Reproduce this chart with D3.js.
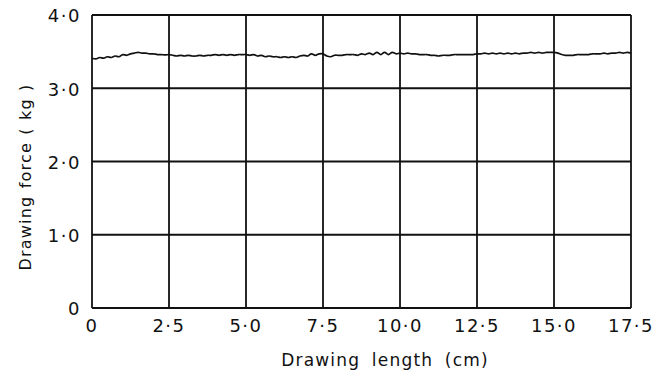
<!DOCTYPE html>
<html>
<head>
<meta charset="utf-8">
<script src="https://cdn.jsdelivr.net/npm/d3@7"></script>
<style>
    body { margin: 0; background: #fff; }
    text { font-family: "DejaVu Sans", sans-serif; fill: #111; }
</style>
</head>
<body>
<svg id="chart"></svg>
<script>
// Drawing force recorded every 0.125 cm of drawing length
var lengthStep = 0.125;
var forceValues = [
    3.41, 3.40, 3.42, 3.41, 3.43, 3.42, 3.44, 3.43, 3.46, 3.45, 3.47, 3.48, 3.49, 3.48, 3.48, 3.47, 3.47, 3.46, 3.46, 3.455,
    3.46, 3.45, 3.44, 3.45, 3.44, 3.45, 3.44, 3.44, 3.45, 3.44, 3.45, 3.45, 3.46, 3.45, 3.46, 3.45, 3.46, 3.45, 3.46, 3.46,
    3.46, 3.45, 3.46, 3.44, 3.45, 3.43, 3.44, 3.43, 3.43, 3.42, 3.43, 3.42, 3.43, 3.42, 3.44, 3.45, 3.44, 3.47, 3.45, 3.47,
    3.47, 3.44, 3.43, 3.45, 3.45, 3.45, 3.46, 3.46, 3.46, 3.45, 3.47, 3.46, 3.48, 3.46, 3.49, 3.46, 3.49, 3.46, 3.49, 3.47,
    3.48, 3.47, 3.48, 3.47, 3.47, 3.46, 3.46, 3.46, 3.45, 3.45, 3.44, 3.45, 3.45, 3.45, 3.46, 3.46, 3.46, 3.46, 3.46, 3.46,
    3.47, 3.47, 3.48, 3.47, 3.48, 3.47, 3.48, 3.47, 3.48, 3.47, 3.48, 3.47, 3.48, 3.48, 3.49, 3.48, 3.49, 3.48, 3.49, 3.49,
    3.49, 3.48, 3.46, 3.45, 3.45, 3.45, 3.46, 3.46, 3.46, 3.46, 3.47, 3.47, 3.47, 3.48, 3.47, 3.48, 3.48, 3.49, 3.48, 3.49,
    3.48
];
var xTicks = [0, 2.5, 5, 7.5, 10, 12.5, 15, 17.5];
var xTickLabels = ["0", "2·5", "5·0", "7·5", "10·0", "12·5", "15·0", "17·5"];
var yTicks = [0, 1, 2, 3, 4];
var yTickLabels = ["0", "1·0", "2·0", "3·0", "4·0"];

var dimensions = {
    width: 666,
    height: 376,
    margin: { top: 15, right: 35, bottom: 68, left: 92 }
};

var svg = d3.select("#chart")
    .attr("width", dimensions.width)
    .attr("height", dimensions.height);

var xScale = d3.scaleLinear()
    .domain([0, 17.5])
    .range([dimensions.margin.left, dimensions.width - dimensions.margin.right]);

var yScale = d3.scaleLinear()
    .domain([0, 4])
    .range([dimensions.height - dimensions.margin.bottom, dimensions.margin.top]);

var data = forceValues.map((v, i) => ({ x: i * lengthStep, y: v }));

// grid
svg.append("g")
    .selectAll("line")
    .data(xTicks)
    .enter()
    .append("line")
    .attr("x1", d => xScale(d))
    .attr("x2", d => xScale(d))
    .attr("y1", yScale(0))
    .attr("y2", yScale(4))
    .attr("stroke", "#111")
    .attr("stroke-width", 1.8);

svg.append("g")
    .selectAll("line")
    .data(yTicks)
    .enter()
    .append("line")
    .attr("x1", xScale(0))
    .attr("x2", xScale(17.5))
    .attr("y1", d => yScale(d))
    .attr("y2", d => yScale(d))
    .attr("stroke", "#111")
    .attr("stroke-width", 1.8);

// tick labels
svg.append("g")
    .selectAll("text")
    .data(xTicks)
    .enter()
    .append("text")
    .attr("x", d => xScale(d))
    .attr("y", yScale(0) + 18)
    .attr("dy", "0.35em")
    .attr("text-anchor", "middle")
    .style("font-size", "18px")
    .style("letter-spacing", "1.5px")
    .text((d, i) => xTickLabels[i]);

svg.append("g")
    .selectAll("text")
    .data(yTicks)
    .enter()
    .append("text")
    .attr("x", xScale(0) - 11)
    .attr("y", d => yScale(d) + 1)
    .attr("dy", "0.35em")
    .attr("text-anchor", "end")
    .style("font-size", "18px")
    .style("letter-spacing", "1.5px")
    .text((d, i) => yTickLabels[i]);

// curve
var line = d3.line()
    .x(d => xScale(d.x))
    .y(d => yScale(d.y))
    .curve(d3.curveCatmullRom);

svg.append("path")
    .datum(data)
    .attr("d", line)
    .attr("fill", "none")
    .attr("stroke", "#111")
    .attr("stroke-width", 1.7);

// axis titles
svg.append("text")
    .attr("x", 385)
    .attr("y", 360)
    .attr("dy", "0.35em")
    .attr("text-anchor", "middle")
    .style("font-size", "17px")
    .style("letter-spacing", "1.2px")
    .style("word-spacing", "5px")
    .text("Drawing length (cm)");

svg.append("text")
    .attr("transform", "translate(25, 177) rotate(-90)")
    .attr("dy", "0.35em")
    .attr("text-anchor", "middle")
    .style("font-size", "16px")
    .style("letter-spacing", "1.2px")
    .style("word-spacing", "1px")
    .text("Drawing force ( kg )");
</script>
</body>
</html>
